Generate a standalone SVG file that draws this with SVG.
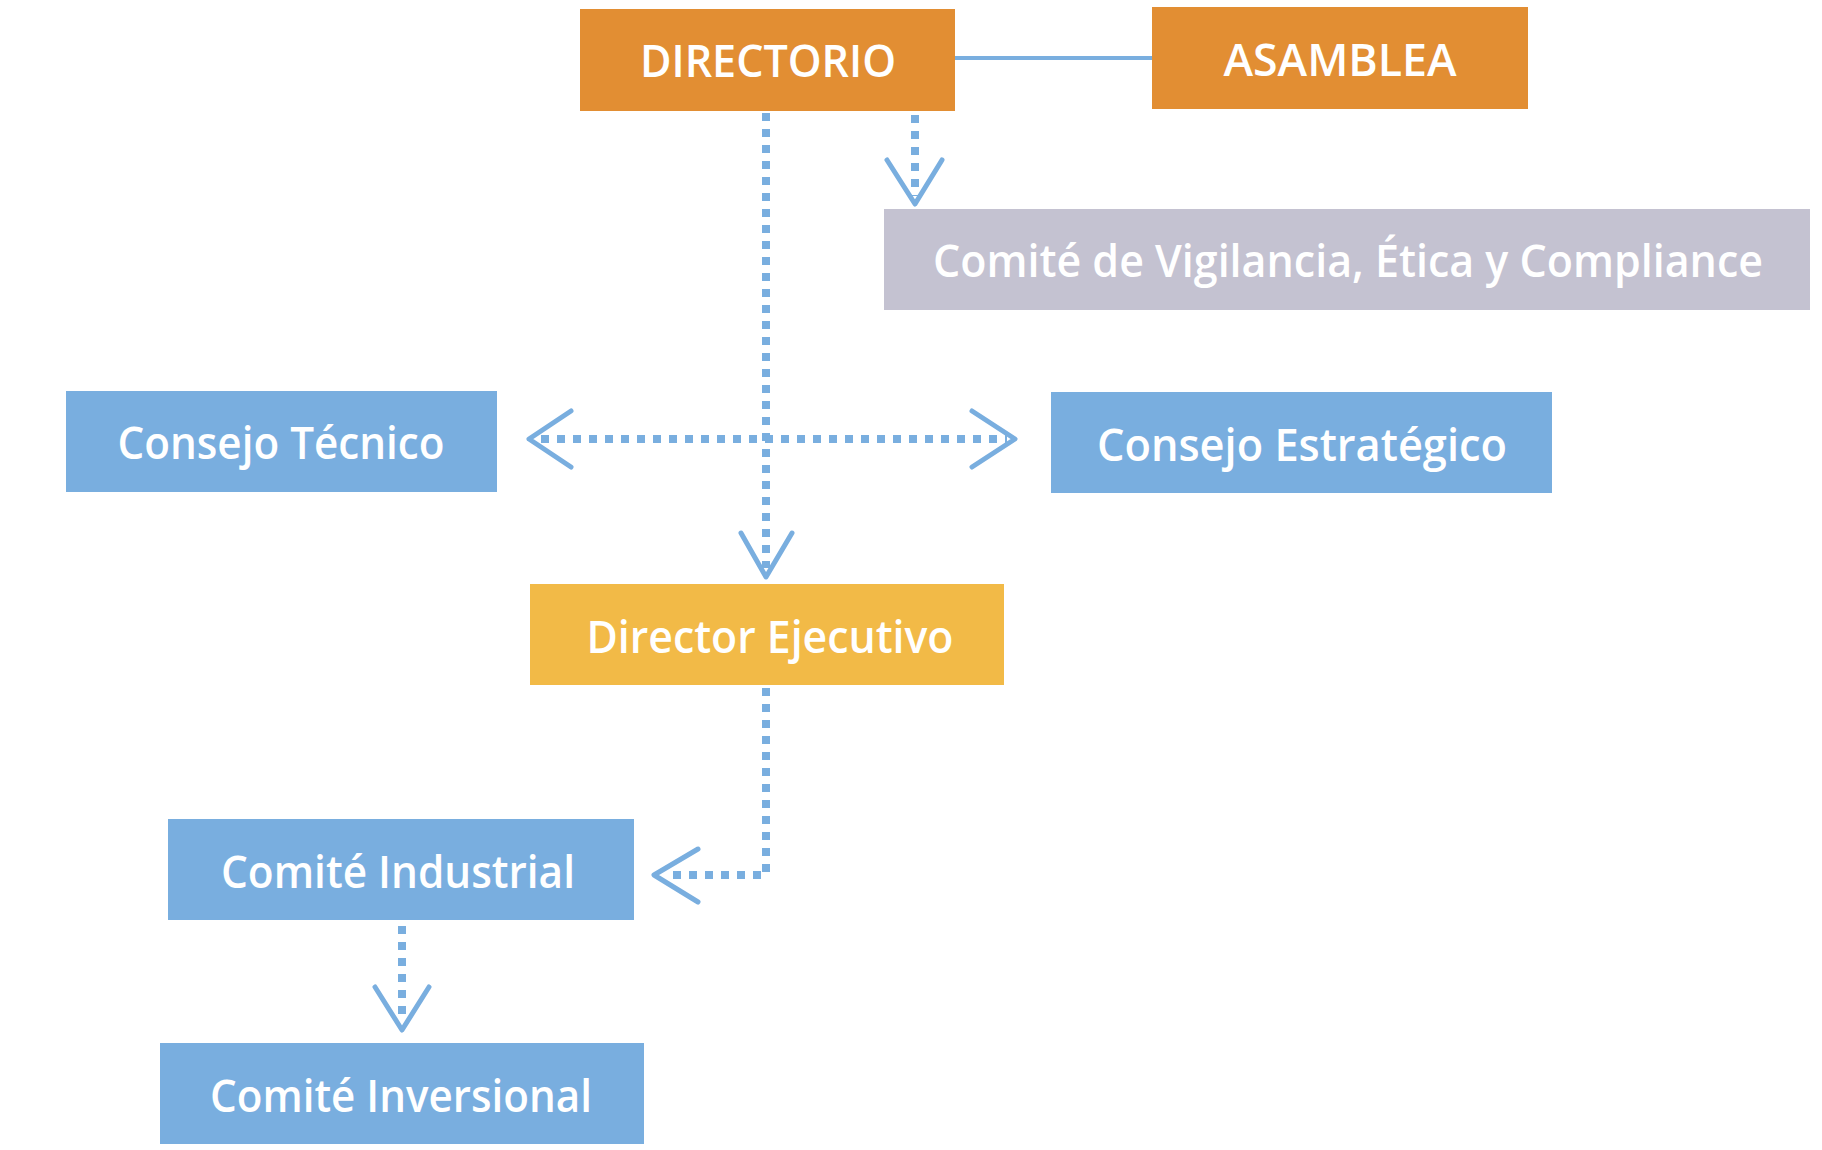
<svg xmlns="http://www.w3.org/2000/svg" width="1822" height="1150" viewBox="0 0 1822 1150">
<style>
.orange{fill:#E28E33}
.gray{fill:#C4C2D1}
.blue{fill:#79AEDF}
.yellow{fill:#F2BA47}
.lbl{font-family:"Open Sans","Noto Sans","Liberation Sans",sans-serif;font-weight:600;font-size:45px;fill:#FFFFFF;text-anchor:middle}
.dot{fill:none;stroke:#79AEDF;stroke-width:8;stroke-dasharray:8 8}
.head{fill:none;stroke:#79AEDF;stroke-width:5;stroke-linecap:round;stroke-linejoin:round}
.solid{fill:none;stroke:#79AEDF;stroke-width:4}
</style>
<rect width="1822" height="1150" fill="#FFFFFF"/>
<g id="connectors">
  <line class="solid" x1="955" y1="58" x2="1152" y2="58"/>
  <line class="dot" x1="766" y1="113" x2="766" y2="568"/>
  <polyline class="head" points="741,533 766,577 792,533"/>
  <line class="dot" x1="915" y1="115" x2="915" y2="196"/>
  <polyline class="head" points="887,160 915,204 942,160"/>
  <line class="dot" x1="541" y1="439" x2="1007" y2="439"/>
  <polyline class="head" points="571,411 529,439 571,467"/>
  <polyline class="head" points="972,411 1015,439 972,467"/>
  <polyline class="dot" points="766,688 766,875 670,875"/>
  <polyline class="head" points="698,849 654,875 698,902"/>
  <line class="dot" x1="402" y1="926" x2="402" y2="1016"/>
  <polyline class="head" points="375,987 402,1030 429,987"/>
</g>
<g id="directorio">
  <rect class="orange" x="580" y="9" width="375" height="102"/>
  <text class="lbl" x="768" y="77" textLength="256" lengthAdjust="spacingAndGlyphs">DIRECTORIO</text>
</g>
<g id="asamblea">
  <rect class="orange" x="1152" y="7" width="376" height="102"/>
  <text class="lbl" x="1340" y="76" textLength="233" lengthAdjust="spacingAndGlyphs">ASAMBLEA</text>
</g>
<g id="comite-vigilancia">
  <rect class="gray" x="884" y="209" width="926" height="101"/>
  <text class="lbl" x="1348" y="277" textLength="830" lengthAdjust="spacingAndGlyphs">Comité de Vigilancia, Ética y Compliance</text>
</g>
<g id="consejo-tecnico">
  <rect class="blue" x="66" y="391" width="431" height="101"/>
  <text class="lbl" x="281" y="459" textLength="327" lengthAdjust="spacingAndGlyphs">Consejo Técnico</text>
</g>
<g id="consejo-estrategico">
  <rect class="blue" x="1051" y="392" width="501" height="101"/>
  <text class="lbl" x="1302" y="461" textLength="410" lengthAdjust="spacingAndGlyphs">Consejo Estratégico</text>
</g>
<g id="director-ejecutivo">
  <rect class="yellow" x="530" y="584" width="474" height="101"/>
  <text class="lbl" x="770" y="653" textLength="367" lengthAdjust="spacingAndGlyphs">Director Ejecutivo</text>
</g>
<g id="comite-industrial">
  <rect class="blue" x="168" y="819" width="466" height="101"/>
  <text class="lbl" x="398" y="888" textLength="354" lengthAdjust="spacingAndGlyphs">Comité Industrial</text>
</g>
<g id="comite-inversional">
  <rect class="blue" x="160" y="1043" width="484" height="101"/>
  <text class="lbl" x="401" y="1112" textLength="382" lengthAdjust="spacingAndGlyphs">Comité Inversional</text>
</g>
</svg>
